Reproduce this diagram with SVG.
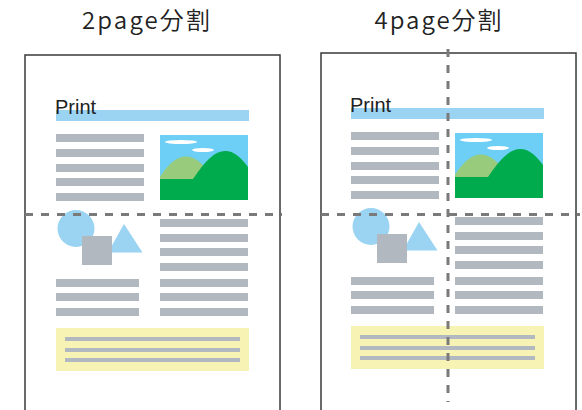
<svg xmlns="http://www.w3.org/2000/svg" xmlns:xlink="http://www.w3.org/1999/xlink" width="582" height="410" viewBox="0 0 582 410">
  <style>
    .title { font-family: "Noto Sans CJK JP", "Noto Sans", sans-serif; font-size: 24px; font-weight: 350; fill: #222; }
    .print { font-family: "Liberation Sans", Arial, sans-serif; font-size: 20px; fill: #222; }
    .page { fill: #fff; stroke: #3a3a3a; stroke-width: 1.5; }
    .bar { fill: #b2b8c0; }
    .head { fill: #9ad4f2; }
    .note { fill: #f7f3b5; }
    .cut { fill: none; stroke: #7a7a7a; stroke-width: 3; stroke-dasharray: 8 8; }
  </style>
  <defs>
    <clipPath id="photo-clip">
      <rect x="160" y="135" width="88" height="65"/>
    </clipPath>
    <!-- one printed sheet: heading, text columns, photo, shapes, note box -->
    <g id="sheet">
      <rect class="head" x="56" y="110" width="193" height="11"/>
      <text class="print" x="55" y="114">Print</text>
      <!-- left text column -->
      <rect class="bar" x="56" y="134" width="88" height="8"/>
      <rect class="bar" x="56" y="149" width="88" height="8"/>
      <rect class="bar" x="56" y="164" width="88" height="8"/>
      <rect class="bar" x="56" y="178" width="88" height="8"/>
      <rect class="bar" x="56" y="193" width="88" height="8"/>
      <!-- photo -->
      <g clip-path="url(#photo-clip)">
        <rect x="160" y="135" width="88" height="65" fill="#6dcff6"/>
        <ellipse cx="181" cy="142" rx="16" ry="2" fill="#fff"/>
        <ellipse cx="203" cy="150" rx="11" ry="2" fill="#fff"/>
        <path d="M158,180 Q186,133 214,180 Z" fill="#98cb7c"/>
        <path d="M160,179 L193,179 C205,161 215,151 225,151 C236,151 244,161 250,170 L250,202 L160,202 Z" fill="#00ab4e"/>
      </g>
      <!-- shapes -->
      <circle cx="76" cy="228.5" r="18.5" fill="#9ad4f2"/>
      <polygon points="124,224 142.5,252.5 108,252.5" fill="#9ad4f2"/>
      <rect class="bar" x="82" y="236" width="30" height="29"/>
      <!-- right text column -->
      <rect class="bar" x="160" y="219" width="88" height="8"/>
      <rect class="bar" x="160" y="234" width="88" height="8"/>
      <rect class="bar" x="160" y="248" width="88" height="8"/>
      <rect class="bar" x="160" y="263" width="88" height="8"/>
      <rect class="bar" x="160" y="279" width="88" height="8"/>
      <rect class="bar" x="160" y="293" width="88" height="8"/>
      <rect class="bar" x="160" y="308" width="88" height="8"/>
      <!-- lower left text -->
      <rect class="bar" x="56" y="279" width="83" height="8"/>
      <rect class="bar" x="56" y="293" width="83" height="8"/>
      <rect class="bar" x="56" y="308" width="83" height="8"/>
      <!-- note box -->
      <rect class="note" x="56" y="328" width="193" height="43"/>
      <rect class="bar" x="65" y="337" width="175" height="4"/>
      <rect class="bar" x="65" y="348" width="175" height="4"/>
      <rect class="bar" x="65" y="358" width="175" height="4"/>
    </g>
  </defs>

  <text class="title" x="146" y="29" text-anchor="middle" textLength="128">2page分割</text>
  <text class="title" x="438" y="29" text-anchor="middle" textLength="127">4page分割</text>

  <g id="page-2split">
    <rect class="page" x="25" y="55" width="255" height="370"/>
    <use xlink:href="#sheet"/>
  </g>

  <g id="page-4split">
    <rect class="page" x="321" y="53" width="255" height="370"/>
    <use xlink:href="#sheet" transform="translate(295,-2)"/>
  </g>

  <g id="cut-lines">
    <line class="cut" x1="25" y1="214.5" x2="282" y2="214.5"/>
    <line class="cut" x1="321" y1="214.5" x2="580" y2="214.5"/>
    <line class="cut" x1="448" y1="49" x2="448" y2="402"/>
  </g>
</svg>
